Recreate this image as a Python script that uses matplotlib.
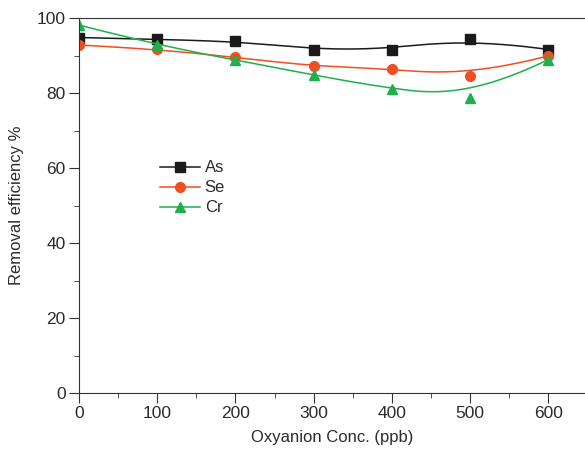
import numpy as np
import matplotlib
matplotlib.use('Agg')
import matplotlib.pyplot as plt
from matplotlib.ticker import MultipleLocator

plt.rcParams['font.family'] = ['Liberation Sans', 'DejaVu Sans']

conc = [0, 100, 200, 300, 400, 500, 600]
arsenic = [94.8, 94.3, 93.9, 91.6, 91.6, 94.5, 91.6]
selenium = [92.8, 91.7, 89.5, 87.1, 86.5, 84.5, 89.9]
chromium = [98.1, 92.8, 88.8, 84.8, 81.0, 78.8, 88.9]


def bspline(x, y, n=300, k=3):
    # clamped B-spline using the data points as control points (like Origin)
    pts = np.column_stack([x, y]).astype(float)
    m = len(pts)
    knots = np.concatenate([np.zeros(k), np.linspace(0, 1, m - k + 1), np.ones(k)])
    t = np.linspace(0, 1 - 1e-9, n)
    basis = np.zeros((n, len(knots) - 1))
    for i in range(len(knots) - 1):
        basis[:, i] = (t >= knots[i]) & (t < knots[i + 1])
    for d in range(1, k + 1):
        new = np.zeros((n, len(knots) - 1 - d))
        for i in range(len(knots) - 1 - d):
            a = knots[i + d] - knots[i]
            b = knots[i + d + 1] - knots[i + 1]
            left = (t - knots[i]) / a * basis[:, i] if a > 0 else 0
            right = (knots[i + d + 1] - t) / b * basis[:, i + 1] if b > 0 else 0
            new[:, i] = left + right
        basis = new
    curve = basis @ pts
    curve[-1] = pts[-1]
    return curve[:, 0], curve[:, 1]


fig = plt.figure(figsize=(5.85, 4.54), dpi=100)
ax = fig.add_axes([79 / 585, 1 - 393 / 454, (585 - 79) / 585, (393 - 18) / 454])

txt = '#2b2b2b'
series = [('As', arsenic, '#1a1a1a', 's'),
          ('Se', selenium, '#f04e23', 'o'),
          ('Cr', chromium, '#1db04b', '^')]
for name, vals, col, mk in series:
    sx, sy = bspline(conc, vals)
    ax.plot(sx, sy, color=col, lw=1.1)
    ax.plot(conc, vals, ls='none', marker=mk, color=col, ms=7)
    ax.plot([], [], color=col, lw=1.1, marker=mk, ms=7, label=name)

ax.set_xlim(0, 647)
ax.set_ylim(0, 100)
ax.xaxis.set_major_locator(MultipleLocator(100))
ax.xaxis.set_minor_locator(MultipleLocator(50))
ax.yaxis.set_major_locator(MultipleLocator(20))
ax.yaxis.set_minor_locator(MultipleLocator(10))
ax.tick_params(which='both', direction='out', labelsize=12.5, color='#333333',
               labelcolor=txt, pad=2.5)
ax.tick_params(which='major', length=7)
ax.tick_params(which='minor', length=3.5)
ax.spines['right'].set_visible(False)
for s in ['left', 'bottom', 'top']:
    ax.spines[s].set_color('#333333')

ax.set_xlabel('Oxyanion Conc. (ppb)', fontsize=12, color=txt, labelpad=6)
ax.set_ylabel('Removal efficiency %', fontsize=12, color=txt, labelpad=9)

ax.legend(loc='upper left', bbox_to_anchor=(0.13, 0.66), frameon=False,
          fontsize=12, handlelength=2.4, labelspacing=0.3, handletextpad=0.3,
          labelcolor=txt)

fig.savefig('out.png', dpi=100)
